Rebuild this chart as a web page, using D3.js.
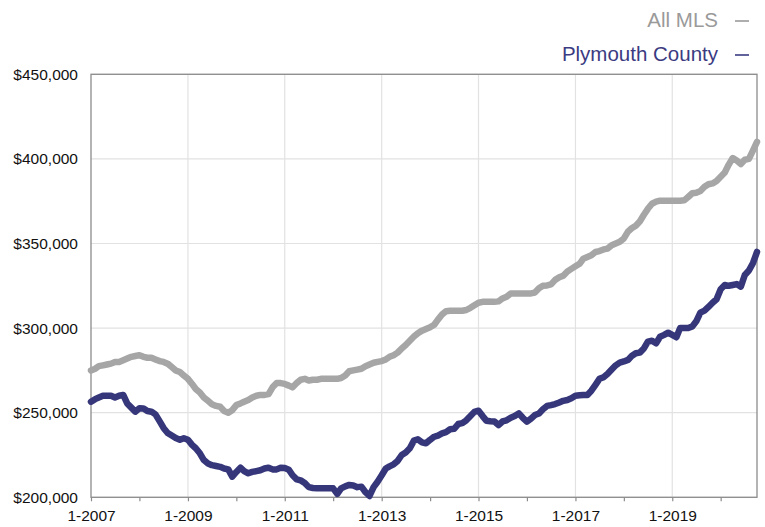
<!DOCTYPE html>
<html>
<head>
<meta charset="utf-8">
<script src="https://cdn.jsdelivr.net/npm/d3@7"></script>
<style>
  html, body { margin: 0; padding: 0; background: #fff; }
  svg { display: block; }
  text { font-family: "Liberation Sans", Arial, Helvetica, sans-serif; }
</style>
</head>
<body>
<svg id="chart" width="765" height="527"></svg>
<script>
// ---- Data (monthly median price, Jan 2007 .. Oct 2020) ----
const startMonth = "2007-01";
const seriesNames = ["All MLS", "Plymouth County"];
const allMLS = [
  275, 276, 277.5, 278, 278.5, 279, 280, 280, 281, 282, 283, 283.5,
  284, 283, 282.5, 282.5, 281.5, 280.5, 280, 279, 277, 275, 274, 272,
  270, 267, 264, 262, 259, 257, 255, 254, 253.5, 251, 250, 251.5,
  254.5, 255.5, 256.5, 257.5, 259, 260, 260.5, 260.5, 261, 265, 267.5, 267.5,
  267, 266, 265, 267.5, 269.5, 270, 269, 269.5, 269.5, 270, 270, 270,
  270, 270, 270.5, 272, 274.5, 275, 275.5, 276, 277.5, 278.5, 279.5, 280,
  280.5, 281.5, 283, 284, 285.5, 288, 290, 292.5, 295, 297, 298.5, 299.5,
  300.5, 302, 305, 308, 310, 310.3, 310.3, 310.3, 310.3, 310.7, 312, 313.5,
  315, 315.5, 315.5, 315.5, 315.5, 315.8, 317.5, 318.5, 320.5, 320.5, 320.5, 320.5,
  320.5, 320.5, 321, 323.5, 325, 325.2, 325.8, 328.5, 330, 331, 333.5, 335,
  336.5, 338, 341, 342, 343, 345, 345.5, 346.5, 347, 349, 350, 351,
  353, 357, 359, 360.5, 363, 367, 370.5, 373.5, 374.7, 375.3, 375.3, 375.3,
  375.3, 375.3, 375.3, 375.5, 377.5, 379.7, 380, 381, 383.5, 385, 385.5, 387,
  389.5, 392, 396.5, 400.5, 399, 397, 399.5, 400, 405, 410
];
const plymouth = [
  256.5, 258, 259, 260, 260, 260, 259, 260, 260.5, 255.5, 253, 250.6,
  252.6, 252.5, 251, 250.6, 249, 245, 241, 238, 236.5, 235, 234, 234.9,
  234, 231, 229, 226, 222, 220, 219, 218.5, 218, 217, 216.5, 212.2,
  215, 217.5, 215.5, 214.2, 215, 215.5, 216, 217, 217.5, 216.5, 216.5, 217.5,
  217.3, 216.3, 213, 210.6, 210, 208.5, 206, 205.5, 205.3, 205.3, 205.3, 205.3,
  205.3, 202, 205.3, 206.5, 207.3, 207, 206, 206.3, 203, 200.8, 206, 209.2,
  213, 217, 218.3, 219.5, 221.5, 225, 226.5, 229, 233.5, 234.3, 232.5, 231.9,
  234, 235.8, 236.5, 237.8, 238.5, 240.2, 240.5, 243.3, 243.8, 245.5, 248, 250.5,
  251.2, 248, 245.3, 245, 244.8, 242.7, 244.8, 245.5, 247, 248, 249.6, 247,
  244.7, 246.5, 248.6, 249.5, 252, 254, 254.5, 255.1, 256, 257, 257.5, 258.5,
  260, 260.3, 260.5, 260.5, 263, 266.5, 270, 271, 273, 275.5, 278, 279.6,
  280.3, 281.2, 283.5, 285.1, 285.5, 288, 292, 292.5, 291, 294.9, 296, 297.3,
  296, 294.6, 300, 300, 300, 301, 304, 309.1, 310.3, 312.5, 315, 317,
  323, 325.5, 325, 325.5, 326, 324.5, 331.4, 334, 338.5, 345
];
const yTicks = [200000, 250000, 300000, 350000, 400000, 450000];
const xLabelYears = [2007, 2009, 2011, 2013, 2015, 2017, 2019];
const colors = ["#a6a6a6", "#36367a"];
const textColors = ["#9a9a9a", "#3b3b82"];

// ---- Layout ----
const svg = d3.select("#chart");
const margin = { left: 91, right: 8, top: 74.3, bottom: 29.7 };
const W = 765, H = 527;
const x0 = margin.left, x1 = W - margin.right;
const y0 = H - margin.bottom, y1 = margin.top;

const parseMonth = d3.timeParse("%Y-%m");
const start = parseMonth(startMonth);
const dates = allMLS.map((_, i) => d3.timeMonth.offset(start, i));

const x = d3.scaleTime().domain([start, dates[dates.length - 1]]).range([x0, x1]);
const y = d3.scaleLinear().domain([200000, 450000]).range([y0, y1]);

// gridlines
const grid = svg.append("g");
grid.selectAll("line.h").data(yTicks).join("line")
  .attr("x1", x0).attr("x2", x1)
  .attr("y1", d => y(d)).attr("y2", d => y(d))
  .attr("stroke", "#e2e2e2").attr("stroke-width", 1.2);
grid.selectAll("line.v").data(xLabelYears.slice(1)).join("line")
  .attr("x1", d => x(new Date(d, 0, 1))).attr("x2", d => x(new Date(d, 0, 1)))
  .attr("y1", y0).attr("y2", y1)
  .attr("stroke", "#e2e2e2").attr("stroke-width", 1.2);

// frame
svg.append("rect")
  .attr("x", x0).attr("y", y1).attr("width", x1 - x0).attr("height", y0 - y1)
  .attr("fill", "none").attr("stroke", "#8c8c8c").attr("stroke-width", 1.3);

// y axis labels
const yAxis = d3.axisLeft(y).tickValues(yTicks).tickFormat(d3.format("$,")).tickSize(0).tickPadding(13);
const gy = svg.append("g").attr("transform", `translate(${x0},0)`).call(yAxis);
gy.select(".domain").remove();
gy.selectAll("text").attr("font-size", "15.5px").attr("fill", "#111")
  .attr("font-family", "'Liberation Sans', Arial, sans-serif");

// x axis: yearly ticks, labels on odd years
const yearTicks = d3.timeYear.range(new Date(2007, 0, 1), new Date(2021, 0, 1));
const xAxis = d3.axisBottom(x).tickValues(yearTicks).tickSize(4).tickPadding(9)
  .tickFormat(d => xLabelYears.includes(d.getFullYear()) ? "1-" + d.getFullYear() : "");
const gx = svg.append("g").attr("transform", `translate(0,${y0})`).call(xAxis);
gx.select(".domain").remove();
gx.selectAll("line").attr("stroke", "#8c8c8c").attr("stroke-width", 1.2);
gx.selectAll("text").attr("font-size", "15.5px").attr("fill", "#111")
  .attr("font-family", "'Liberation Sans', Arial, sans-serif");

// lines
const line = d3.line()
  .x((d, i) => x(dates[i]))
  .y(d => y(d * 1000))
  .curve(d3.curveLinear);

[allMLS, plymouth].forEach((s, k) => {
  svg.append("path")
    .datum(s)
    .attr("d", line)
    .attr("fill", "none")
    .attr("stroke", colors[k])
    .attr("stroke-width", 6.5)
    .attr("stroke-linejoin", "round")
    .attr("stroke-linecap", "round");
});

// legend
const legendY = [27, 61];
const leg = svg.append("g");
seriesNames.forEach((name, k) => {
  leg.append("text")
    .attr("x", 718).attr("y", legendY[k])
    .attr("text-anchor", "end")
    .attr("font-size", "20.5px")
    .attr("fill", textColors[k])
    .text(name);
  leg.append("line")
    .attr("x1", 735).attr("x2", 749)
    .attr("y1", legendY[k] - 6).attr("y2", legendY[k] - 6)
    .attr("stroke", textColors[k]).attr("stroke-width", 1.6);
});
</script>
</body>
</html>
